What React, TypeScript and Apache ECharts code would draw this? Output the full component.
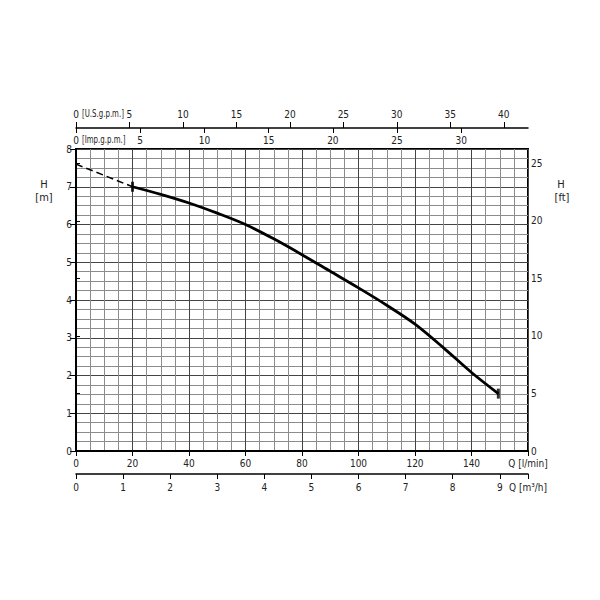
import React, { useEffect, useRef } from "react";
import * as echarts from "echarts";

// Pump curve: flow Q [l/min] vs head H [m]
const dashedFlow = [0, 20];
const dashedHead = [7.6, 7.0];
const curveFlow = [20, 30, 40, 50, 60, 70, 80, 90, 100, 110, 120, 130, 140, 149.5];
const curveHead = [7.0, 6.8, 6.57, 6.3, 6.0, 5.62, 5.2, 4.76, 4.32, 3.86, 3.36, 2.74, 2.08, 1.52];

const lminTicks = [0, 20, 40, 60, 80, 100, 120, 140, 160];
const m3hTicks = [0, 1, 2, 3, 4, 5, 6, 7, 8, 9, 9.6];
const usGpmTicks = [0, 5, 10, 15, 20, 25, 30, 35, 40];
const impGpmTicks = [0, 5, 10, 15, 20, 25, 30];
const headMTicks = [0, 1, 2, 3, 4, 5, 6, 7, 8];
const headFtTicks = [0, 5, 10, 15, 20, 25];

const Q_MAX = 160;
const H_MAX = 8;
const US_GAL = 3.785411784;
const IMP_GAL = 4.54609;
const FT = 3.28084;

const FONT = "'Liberation Sans Narrow', 'DejaVu Sans Condensed', 'Liberation Sans', sans-serif";
const TXT = "#222";

export default function App() {
  const ref = useRef<HTMLDivElement>(null);

  useEffect(() => {
    if (!ref.current) return;
    const chart = echarts.init(ref.current, undefined, { renderer: "svg" });
    const zip = (a: number[], b: number[]) => a.map((v, i) => [v, b[i]]);
    const labelBase = { color: TXT, fontSize: 10, fontFamily: FONT };
    const sideText = (x: number, y: number, text: string, size: number, align: string, sx = 1) => ({
      type: "text",
      x,
      y,
      scaleX: sx,
      style: { text, fill: TXT, font: `${size}px ${FONT}`, align, verticalAlign: "middle" },
    });

    chart.setOption({
      animation: false,
      backgroundColor: "#fff",
      textStyle: { fontFamily: FONT },
      grid: {
        left: 76,
        right: 72,
        top: 149,
        bottom: 149,
        show: true,
        borderColor: "#000",
        borderWidth: 2,
        backgroundColor: "transparent",
      },
      xAxis: [
        {
          type: "value",
          position: "bottom",
          min: 0,
          max: Q_MAX,
          interval: 20,
          axisLine: { show: true, lineStyle: { color: "#000", width: 2 } },
          axisTick: { show: true, length: 5, customValues: lminTicks, lineStyle: { color: "#000", width: 1 } },
          axisLabel: {
            ...labelBase,
            margin: 7,
            customValues: lminTicks,
            formatter: (v: number) => (v === Q_MAX ? "Q [l/min]" : String(v)),
          },
          splitLine: { show: true, lineStyle: { color: "#444", width: 1 } },
          minorTick: { show: false, splitNumber: 4 },
          minorSplitLine: { show: true, lineStyle: { color: "#8c8c8c", width: 1 } },
        },
        {
          type: "value",
          position: "bottom",
          offset: 23,
          min: 0,
          max: (Q_MAX * 60) / 1000,
          interval: 1,
          axisLine: { show: true, onZero: false, lineStyle: { color: "#000", width: 1.5 } },
          axisTick: { show: true, length: 5, customValues: m3hTicks, lineStyle: { color: "#000" } },
          axisLabel: {
            ...labelBase,
            margin: 8,
            customValues: m3hTicks,
            formatter: (v: number) => (Math.abs(v - 9.6) < 1e-6 ? "Q [m³/h]" : String(v)),
          },
          splitLine: { show: false },
        },
        {
          type: "value",
          position: "top",
          offset: 21,
          min: 0,
          max: Q_MAX / US_GAL,
          interval: 5,
          axisLine: { show: true, onZero: false, lineStyle: { color: "#000", width: 1.5 } },
          axisTick: { show: true, length: 6, customValues: usGpmTicks, lineStyle: { color: "#000" } },
          axisLabel: { ...labelBase, margin: 9, customValues: usGpmTicks },
          splitLine: { show: false },
        },
        {
          type: "value",
          position: "top",
          offset: 21,
          min: 0,
          max: Q_MAX / IMP_GAL,
          interval: 5,
          axisLine: { show: false, onZero: false },
          axisTick: {
            show: true,
            inside: true,
            length: 5,
            customValues: impGpmTicks,
            lineStyle: { color: "#000" },
          },
          axisLabel: { ...labelBase, inside: true, margin: 7, customValues: impGpmTicks },
          splitLine: { show: false },
        },
      ],
      yAxis: [
        {
          type: "value",
          position: "left",
          min: 0,
          max: H_MAX,
          interval: 1,
          axisLine: { show: true, lineStyle: { color: "#000", width: 2 } },
          axisTick: { show: true, length: 6, customValues: headMTicks, lineStyle: { color: "#000" } },
          axisLabel: { ...labelBase, margin: 4, customValues: headMTicks },
          splitLine: { show: true, lineStyle: { color: "#444", width: 1 } },
          minorTick: { show: false, splitNumber: 4 },
          minorSplitLine: { show: true, lineStyle: { color: "#8c8c8c", width: 1 } },
        },
        {
          type: "value",
          position: "right",
          min: 0,
          max: H_MAX * FT,
          interval: 5,
          axisLine: { show: true, lineStyle: { color: "#000", width: 2 } },
          axisTick: { show: true, length: 4, customValues: headFtTicks, lineStyle: { color: "#000" } },
          axisLabel: { ...labelBase, margin: 3, customValues: headFtTicks },
          splitLine: { show: false },
        },
      ],
      series: [
        {
          type: "line",
          xAxisIndex: 0,
          yAxisIndex: 0,
          data: zip(dashedFlow, dashedHead),
          showSymbol: false,
          lineStyle: { color: "#000", width: 1.5, type: [7, 4] },
          silent: true,
        },
        {
          type: "line",
          xAxisIndex: 0,
          yAxisIndex: 0,
          data: zip(curveFlow, curveHead),
          smooth: 0.3,
          showSymbol: false,
          lineStyle: { color: "#000", width: 2.8 },
          silent: true,
        },
        {
          type: "scatter",
          xAxisIndex: 0,
          yAxisIndex: 0,
          data: [
            [curveFlow[0], curveHead[0]],
            [curveFlow[curveFlow.length - 1], curveHead[curveHead.length - 1]],
          ],
          symbol: "rect",
          symbolSize: [3, 10],
          itemStyle: { color: "#000" },
          silent: true,
        },
      ],
      graphic: [
        sideText(82, 114, "[U.S.g.p.m.]", 10, "left", 0.78),
        sideText(82, 140, "[Imp.g.p.m.]", 10, "left", 0.78),
        sideText(44, 184, "H", 11, "center"),
        sideText(44, 197, "[m]", 11, "center"),
        sideText(561, 184, "H", 11, "center"),
        sideText(562, 197, "[ft]", 11, "center"),
      ],
    });

    return () => chart.dispose();
  }, []);

  return (
    <div
      ref={ref}
      style={{ position: "fixed", left: 0, top: 0, width: 600, height: 600, background: "#fff" }}
    />
  );
}
